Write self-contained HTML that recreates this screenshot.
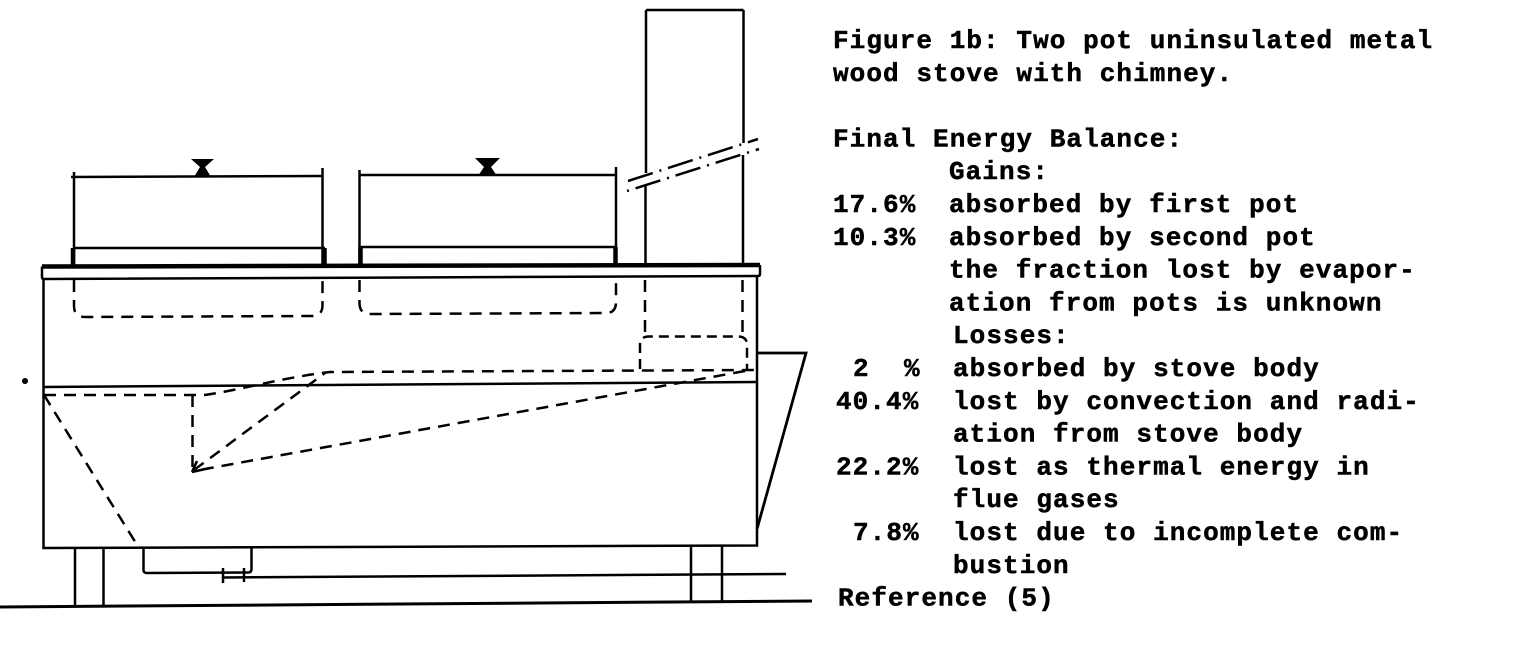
<!DOCTYPE html>
<html>
<head>
<meta charset="utf-8">
<style>
html,body{margin:0;padding:0;background:#fff;}
body{width:1530px;height:669px;overflow:hidden;}
svg{display:block;}
.t{font-family:"Liberation Mono","DejaVu Sans Mono",monospace;font-size:26px;font-weight:bold;letter-spacing:1.07px;fill:#000;stroke:#000;stroke-width:0.5px;}
</style>
</head>
<body>
<svg width="1530" height="669" viewBox="0 0 1530 669" xmlns="http://www.w3.org/2000/svg">
<g fill="none" stroke="#000" stroke-width="2.5" stroke-linecap="butt">
  <!-- Pot 1 -->
  <path d="M71,177 L323,176"/>
  <path d="M74,172 L74,267"/>
  <path d="M322.5,168 L322.5,267"/>
  <path d="M74,248 L325,248"/>
  <path d="M73,248 L73,266 M324.5,248 L324.5,266" stroke-width="4.5"/>
  <!-- Pot 2 -->
  <path d="M359,175 L615,175"/>
  <path d="M359.5,170 L359.5,266"/>
  <path d="M616,167 L616,266"/>
  <path d="M359,247 L617,247"/>
  <path d="M360.5,247 L360.5,265 M615.5,247 L615.5,265" stroke-width="4.5"/>
  <!-- Rim -->
  <path d="M42,266.5 L760,265" stroke-width="4.5"/>
  <path d="M42,266.5 L42,277 Q42,279 44,279 L758,276 Q760,276 760,274 L760,265"/>
  <!-- Body -->
  <path d="M43.5,279 L43.5,548 L757,545.5 L757,276"/>
  <!-- Grate line -->
  <path d="M43,387 L757,382"/>
  <!-- Flue box on right -->
  <path d="M757,353 L806,353 L757,529" stroke-width="2.8"/>
  <!-- Chimney -->
  <path d="M646,10 L743.5,10"/>
  <path d="M646,10 L646,173"/>
  <path d="M645.5,186 L645.5,266"/>
  <path d="M743.5,10 L743.5,143"/>
  <path d="M743,155 L743,266"/>
  <!-- Break lines -->
  <path d="M628,181 L758,139" stroke-dasharray="26 7 2 7"/>
  <path d="M627,191 L759,149" stroke-dasharray="2 7 26 7"/>
  <!-- Ash pan -->
  <path d="M143.5,548 L143.5,570 Q143.5,573 147,573 L248,572.5 Q251.5,572.5 251.5,569 L251.5,548"/>
  <!-- Rod -->
  <path d="M222,577.5 L786,574"/>
  <path d="M223,568 L223,583 M244,568 L244,582"/>
  <!-- Legs -->
  <path d="M75,548 L75,606.5 M103.5,548 L103.5,606.5"/>
  <path d="M691,546 L691,601 M722,546 L722,601"/>
  <!-- Ground -->
  <path d="M0,607 L812,601" stroke-width="3"/>
  <!-- Arrowhead -->
  <path d="M192,472 L210,468 M192,472 L197,461"/>
</g>
<!-- Knobs -->
<polygon points="191,159 214,159 205,167 211,177 194,177 200,167" fill="#000"/>
<polygon points="475,158 500,158 491,167 497,176 478,176 484,167" fill="#000"/>
<g fill="none" stroke="#000" stroke-width="2.5" stroke-dasharray="12 8">
  <!-- pot dashed bottoms -->
  <path d="M74,280 L74,306 Q74,317 85,317 L312,316 Q322.5,316 322.5,305 L322.5,280"/>
  <path d="M359.5,280 L359.5,303 Q359.5,314 370,314 L606,313 Q616,313 616,302 L616,280"/>
  <!-- chimney inside -->
  <path d="M645,280 L645,336"/>
  <path d="M742.5,280 L742.5,336"/>
  <path d="M640,369 L640,345 Q640,337 648,336.5 L739,336.5 Q747,337 747,345 L747,369" stroke-dasharray="10 6"/>
  <!-- flame paths -->
  <path d="M44,395 L205,395 C240,390 280,378 330,372 L757,370"/>
  <path d="M192.5,395 L192.5,470"/>
  <path d="M194,470 L325,373"/>
  <path d="M745,371 L194,471"/>
  <path d="M44,395 L139,548"/>
</g>
<circle cx="25" cy="381" r="3" fill="#000"/>

<!-- Text -->
<g class="t">
  <text x="833" y="48">Figure 1b: Two pot uninsulated metal</text>
  <text x="833" y="80.8">wood stove with chimney.</text>
  <text x="833" y="146.4">Final Energy Balance:</text>
  <text x="949" y="179.2">Gains:</text>
  <text x="833" y="212">17.6%</text>
  <text x="949" y="212">absorbed by first pot</text>
  <text x="833" y="244.8">10.3%</text>
  <text x="949" y="244.8">absorbed by second pot</text>
  <text x="949" y="277.6">the fraction lost by evapor-</text>
  <text x="949" y="310.4">ation from pots is unknown</text>
  <text x="953" y="343.2">Losses:</text>
  <text x="853" y="376">2</text>
  <text x="904" y="376">%</text>
  <text x="953" y="376">absorbed by stove body</text>
  <text x="836" y="408.8">40.4%</text>
  <text x="953" y="408.8">lost by convection and radi-</text>
  <text x="953" y="441.6">ation from stove body</text>
  <text x="836" y="474.4">22.2%</text>
  <text x="953" y="474.4">lost as thermal energy in</text>
  <text x="953" y="507.2">flue gases</text>
  <text x="853" y="540">7.8%</text>
  <text x="953" y="540">lost due to incomplete com-</text>
  <text x="953" y="572.8">bustion</text>
  <text x="838" y="605.6">Reference (5)</text>
</g>
</svg>
</body>
</html>
